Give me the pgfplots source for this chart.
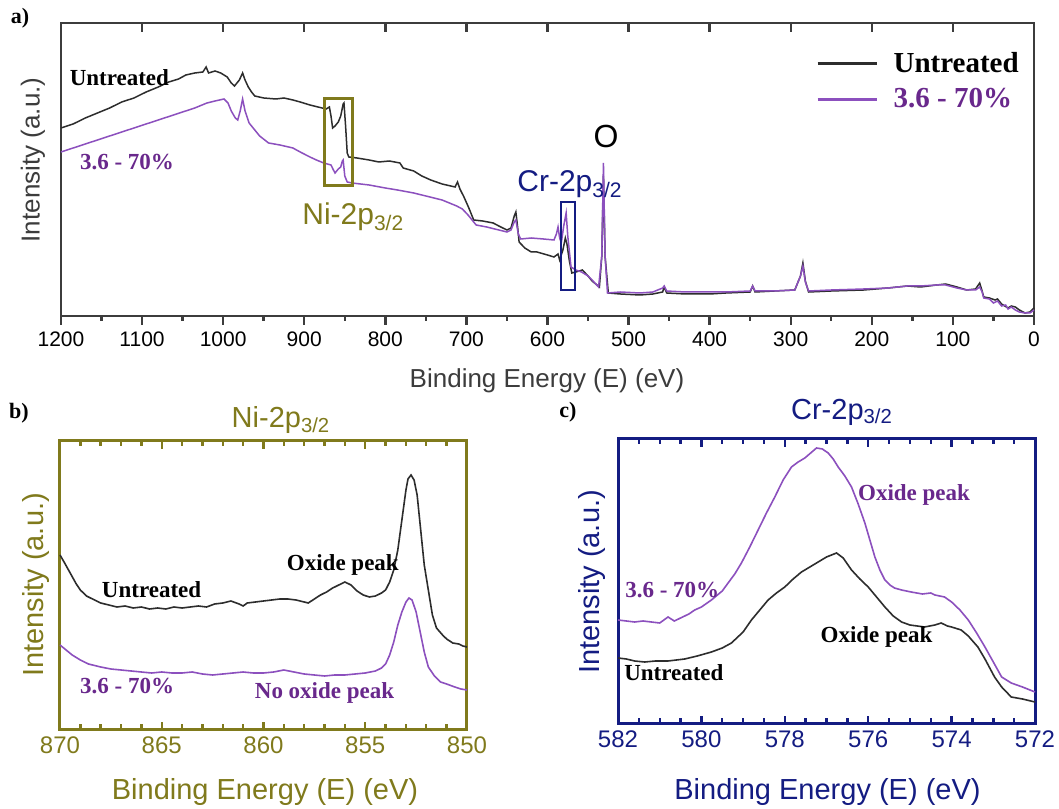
\documentclass[border=0pt]{standalone}
\usepackage{fontspec}
\setmainfont{Liberation Sans}
\newfontfamily\tnr{Liberation Serif}
\usepackage{pgfplots}
\usepackage{pgfplotstable}
\pgfplotsset{compat=1.18}
\definecolor{olivec}{RGB}{128,122,28}
\definecolor{navyc}{RGB}{20,28,130}
\definecolor{purl}{RGB}{140,80,190}
\definecolor{purt}{RGB}{105,40,140}
\definecolor{blk}{RGB}{45,45,45}
\definecolor{frm}{RGB}{60,60,60}

\pgfplotstableread{
E I
1200 188
1185 192
1170 198
1155 203
1140 208
1125 214
1110 218
1095 224
1080 229
1067 234
1055 237
1046 241
1035 243
1025 244
1021 249
1018 243
1010 245
1003 243
995 239
990 233
986 230
980 236
976 243
973 236
969 229
965 224
961 220
950 218
935 217
925 218
914 216
905 214
893 211
883 209
873 207
869 209
867 200
865 188
862 190
858 194
855 200
852 212
851 213
849 190
847 163
845 159
835 158
820 156
808 154
795 155
782 153
778 148
765 145
755 140
744 136
730 132
714 129
711 134
708 127
703 119
697 108
691 96
680 95
667 93
660 90
650 86
645 88
641 100
639 104
637 90
635 74
628 68
620 64
613 64
600 61
592 59
587 62
585 56
581 66
578 78
576 72
573 55
570 43
565 44
557 46
550 40
545 35
536 29
533 60
531 140
529 60
525 23
510 22
486 21
470 22
458 24
456 29
453 23
430 22
400 22
380 23
350 24
347 30
344 24
320 25
295 26
288 40
285 53
282 35
278 24
250 25
210 26
180 28
156 30
140 29
120 31
109 32
95 29
83 26
72 27
67 33
64 25
62 19
55 18
48 16
45 17
40 12
32 8
28 10
23 9
18 6
11 3
5 4
0 8
}\surveyU

\pgfplotstableread{
E I
1200 164
1185 168
1170 172
1155 176
1140 180
1125 184
1110 188
1095 192
1080 196
1065 200
1050 204
1035 208
1020 213
1010 215
999 217
994 213
990 205
985 198
982 196
979 205
976 217
973 205
968 193
961 186
955 180
944 173
930 171
914 168
905 164
893 159
885 156
876 153
867 151
864 146
862 143
858 147
855 149
853 155
852 156
850 140
847 134
841 133
820 131
800 128
785 126
765 123
750 120
730 116
712 110
705 107
698 101
690 93
688 91
675 89
660 86
650 84
645 86
641 94
639 96
636 82
633 77
620 78
605 77
592 76
589 82
587 89
585 78
583 73
580 90
577 103
575 80
571 49
565 46
558 44
550 40
545 36
537 29
533 60
531 153
529 60
526 23
510 24
486 23
470 24
458 28
456 30
453 25
430 24
400 24
380 24
350 25
347 30
344 25
320 25
295 26
288 40
285 50
282 34
278 25
250 26
210 27
180 28
156 30
140 30
120 31
109 31
95 28
83 26
72 26
67 29
64 24
62 18
55 17
50 13
45 15
40 10
35 11
32 7
28 9
23 6
18 4
11 3
5 3
0 6
}\surveyT

\pgfplotstableread{
E I
870 175
869.8 168
869.5 157
869.2 146
869 140
868.7 134
868.4 131
868 127
867.6 125
867.2 123
866.8 124
866.4 122
866 123
865.6 121
865.2 122
864.8 121
864.4 123
864 122
863.6 123
863.2 124
862.8 123
862.4 126
862 127
861.6 129
861.2 126
861 124
860.8 127
860.4 128
860 129
859.6 130
859.2 131
858.8 131
858.4 130
858 128
857.8 127
857.5 131
857.2 135
856.9 138
856.6 142
856.3 145
856 148
855.7 145
855.4 139
855.1 135
854.8 133
854.5 134
854.2 137
854 140
853.8 148
853.6 160
853.4 180
853.2 210
853.0 240
852.9 251
852.75 255
852.6 250
852.45 235
852.3 205
852.1 165
851.9 140
851.7 115
851.5 102
851.2 95
851 91
850.7 87
850.4 86
850.2 84
850 83
}\niU

\pgfplotstableread{
E I
870 85
869.7 80
869.4 75
869 70
868.6 66
868 63
867.5 61
867 60
866.5 59
866 58
865.5 57
865 58
864.5 57
864 57
863.5 58
863 56
862.5 55
862 56
861.5 57
861 58
860.5 57
860 57
859.5 58
859 60
858.5 58
858 56
857.5 55
857 54
856.5 55
856 55
855.5 56
855 57
854.5 59
854.2 62
854 66
853.8 75
853.6 88
853.4 105
853.2 118
853.0 128
852.85 132
852.7 130
852.5 118
852.3 98
852.1 78
851.9 63
851.6 54
851.3 48
851 46
850.6 43
850.3 41
850 40
}\niT

\pgfplotstableread{
E I
582 104
581.8 103
581.6 102
581.4 103
581.2 102
581 101
580.8 107
580.65 103
580.5 106
580.3 110
580.16 114
580 117
579.76 124
579.5 133
579.36 141
579.2 150
579.04 161
578.84 177
578.64 194
578.44 211
578.24 227
578.04 244
577.84 257
577.68 262
577.52 266
577.38 271
577.24 276
577.1 275
576.96 271
576.84 265
576.72 257
576.56 248
576.4 237
576.24 220
576.08 201
575.96 184
575.84 167
575.72 154
575.6 144
575.48 139
575.37 136
575.2 134
574.97 132
574.7 130
574.5 131
574.4 129
574.17 127
574 122
573.8 114
573.6 104
573.4 91
573.2 77
573 62
572.8 47
572.57 41
572.3 37
572 32
}\crT

\pgfplotstableread{
E I
582 66
581.8 65
581.6 63
581.36 62
581.1 63
580.8 63
580.6 64
580.4 65
580.1 68
579.76 72
579.5 76
579.28 81
579.0 92
578.8 104
578.6 114
578.4 124
578.2 131
578 137
577.8 145
577.6 152
577.4 157
577.2 162
577.0 167
576.76 171
576.6 166
576.4 154
576.2 145
576 137
575.8 127
575.6 117
575.4 108
575.2 102
575.0 99
574.65 97
574.4 99
574.25 101
574.1 98
574 97
573.77 94
573.6 88
573.37 77
573.2 65
572.97 47
572.8 37
572.57 27
572.3 25
572 22
}\crU

\pgfplotsset{
  base/.style={scale only axis, anchor=south west, x dir=reverse, clip=false,
    ymajorticks=false, yminorticks=false, /pgf/number format/assume math mode=true,
    /pgf/number format/1000 sep={}},
}
\newcommand{\lab}{\tnr\bfseries\fontsize{11.5}{13}\selectfont}
% tick helpers: filled rectangles, x value in data units, heights in data units
\newcommand{\tk}[4]{\fill[#1] ([xshift=-0.6pt]axis cs:#2,#3) rectangle ([xshift=0.6pt]axis cs:#2,#4);}

\begin{document}
\begin{tikzpicture}
\path[use as bounding box, fill=white] (0,0) rectangle (529.5pt,404pt);

% ---------- panel a ----------
\begin{axis}[base, at={(30.5pt,246pt)}, width=486.5pt, height=146.5pt,
  xmin=0, xmax=1200, ymin=0, ymax=293,
  xtick={0,100,...,1200}, xtick pos=left, tick align=outside,
  major tick length=4.5pt,
  axis line style={draw=frm, line width=0.9pt},
  every tick/.style={draw=frm, line width=1.1pt},
  ticklabel style={font=\fontsize{10.5}{12}\selectfont, text=black},
  legend style={at={(rel axis cs:0.995,0.93)}, anchor=north east, draw=none, fill=none,
    font=\tnr\bfseries\fontsize{14.5}{16}\selectfont, row sep=2.5pt},
  legend cell align=left,
  legend image code/.code={\path[draw=none] (0pt,0pt) -- (36pt,0pt); \draw[#1, line width=1.5pt] (0pt,0pt) -- (29.5pt,0pt);},
]
\addplot[blk, line width=0.75pt] table[x=E, y=I] {\surveyU};
\addlegendentry{\textcolor{black}{Untreated}}
\addplot[purl, line width=0.75pt] table[x=E, y=I] {\surveyT};
\addlegendentry{\textcolor{purt}{3.6 - 70\%}}
\tk{frm}{0}{0}{-9}\tk{frm}{100}{0}{-9}\tk{frm}{200}{0}{-9}\tk{frm}{300}{0}{-9}
\tk{frm}{400}{0}{-9}\tk{frm}{500}{0}{-9}\tk{frm}{600}{0}{-9}\tk{frm}{700}{0}{-9}
\tk{frm}{800}{0}{-9}\tk{frm}{900}{0}{-9}\tk{frm}{1000}{0}{-9}\tk{frm}{1100}{0}{-9}
\tk{frm}{1200}{0}{-9}
\tk{frm}{50}{0}{-5.5}\tk{frm}{150}{0}{-5.5}\tk{frm}{250}{0}{-5.5}\tk{frm}{350}{0}{-5.5}
\tk{frm}{450}{0}{-5.5}\tk{frm}{550}{0}{-5.5}\tk{frm}{650}{0}{-5.5}\tk{frm}{750}{0}{-5.5}
\tk{frm}{850}{0}{-5.5}\tk{frm}{950}{0}{-5.5}\tk{frm}{1050}{0}{-5.5}\tk{frm}{1150}{0}{-5.5}
\tk{frm}{100}{293}{284}\tk{frm}{200}{293}{284}\tk{frm}{300}{293}{284}\tk{frm}{400}{293}{284}
\tk{frm}{500}{293}{284}\tk{frm}{600}{293}{284}\tk{frm}{700}{293}{284}\tk{frm}{800}{293}{284}
\tk{frm}{900}{293}{284}\tk{frm}{1000}{293}{284}\tk{frm}{1100}{293}{284}
\draw[olivec, line width=1.5pt] (axis cs:875.6,130) rectangle (axis cs:840,217);
\draw[navyc, line width=1.3pt] (axis cs:583.3,26) rectangle (axis cs:566,114);
\node[font=\lab, text=black] at (axis cs:1128,238) {Untreated};
\node[font=\lab, text=purt] at (axis cs:1118.6,154) {3.6 - 70\%};
\node[anchor=base west, inner sep=0pt, text=olivec, font=\fontsize{15}{17}\selectfont] at (axis cs:902.8,91) {Ni-2p\textsubscript{3/2}};
\node[anchor=base west, inner sep=0pt, text=navyc, font=\fontsize{15}{17}\selectfont] at (axis cs:637.6,124) {Cr-2p\textsubscript{3/2}};
\node[anchor=base, inner sep=0pt, text=black, font=\fontsize{16}{18}\selectfont] at (axis cs:527.8,168) {O};
\end{axis}

% ---------- panel b ----------
\begin{axis}[base, at={(30pt,39pt)}, width=203.5pt, height=144.5pt,
  xmin=850, xmax=870, ymin=0, ymax=289,
  xtick={850,855,...,870}, xtick pos=both, tick align=inside,
  major tick length=3.8pt,
  axis line style={draw=olivec, line width=1.5pt},
  every tick/.style={draw=olivec, line width=1.2pt},
  ticklabel style={font=\fontsize{12}{14}\selectfont, text=olivec},
]
\addplot[blk, line width=0.8pt] table[x=E, y=I] {\niU};
\addplot[purl, line width=0.8pt] table[x=E, y=I] {\niT};
\tk{olivec}{855}{0}{8}\tk{olivec}{860}{0}{8}\tk{olivec}{865}{0}{8}
\tk{olivec}{855}{289}{281}\tk{olivec}{860}{289}{281}\tk{olivec}{865}{289}{281}
\tk{olivec}{851}{0}{5.5}\tk{olivec}{852}{0}{5.5}\tk{olivec}{853}{0}{5.5}\tk{olivec}{854}{0}{5.5}
\tk{olivec}{856}{0}{5.5}\tk{olivec}{857}{0}{5.5}\tk{olivec}{858}{0}{5.5}\tk{olivec}{859}{0}{5.5}
\tk{olivec}{861}{0}{5.5}\tk{olivec}{862}{0}{5.5}\tk{olivec}{863}{0}{5.5}\tk{olivec}{864}{0}{5.5}
\tk{olivec}{866}{0}{5.5}\tk{olivec}{867}{0}{5.5}\tk{olivec}{868}{0}{5.5}\tk{olivec}{869}{0}{5.5}
\tk{olivec}{851}{289}{283.5}\tk{olivec}{852}{289}{283.5}\tk{olivec}{853}{289}{283.5}\tk{olivec}{854}{289}{283.5}
\tk{olivec}{856}{289}{283.5}\tk{olivec}{857}{289}{283.5}\tk{olivec}{858}{289}{283.5}\tk{olivec}{859}{289}{283.5}
\tk{olivec}{861}{289}{283.5}\tk{olivec}{862}{289}{283.5}\tk{olivec}{863}{289}{283.5}\tk{olivec}{864}{289}{283.5}
\tk{olivec}{866}{289}{283.5}\tk{olivec}{867}{289}{283.5}\tk{olivec}{868}{289}{283.5}\tk{olivec}{869}{289}{283.5}
\node[font=\lab, text=black] at (axis cs:856.1,165) {Oxide peak};
\node[font=\lab, text=black] at (axis cs:865.5,140) {Untreated};
\node[font=\lab, text=purt] at (axis cs:866.7,44) {3.6 - 70\%};
\node[font=\lab, text=purt] at (axis cs:857.0,37) {No oxide peak};
\end{axis}

% ---------- panel c ----------
\begin{axis}[base, at={(309pt,42pt)}, width=208.5pt, height=142.5pt,
  xmin=572, xmax=582, ymin=0, ymax=285,
  xtick={572,574,...,582}, xtick pos=both, tick align=inside,
  major tick length=3.8pt,
  axis line style={draw=navyc, line width=1.5pt},
  every tick/.style={draw=navyc, line width=1.2pt},
  ticklabel style={font=\fontsize{12}{14}\selectfont, text=navyc},
]
\addplot[purl, line width=0.8pt] table[x=E, y=I] {\crT};
\addplot[blk, line width=0.8pt] table[x=E, y=I] {\crU};
\tk{navyc}{574}{0}{8}\tk{navyc}{576}{0}{8}\tk{navyc}{578}{0}{8}\tk{navyc}{580}{0}{8}
\tk{navyc}{574}{285}{277}\tk{navyc}{576}{285}{277}\tk{navyc}{578}{285}{277}\tk{navyc}{580}{285}{277}
\tk{navyc}{572.5}{0}{5.5}\tk{navyc}{573}{0}{5.5}\tk{navyc}{573.5}{0}{5.5}
\tk{navyc}{574.5}{0}{5.5}\tk{navyc}{575}{0}{5.5}\tk{navyc}{575.5}{0}{5.5}
\tk{navyc}{576.5}{0}{5.5}\tk{navyc}{577}{0}{5.5}\tk{navyc}{577.5}{0}{5.5}
\tk{navyc}{578.5}{0}{5.5}\tk{navyc}{579}{0}{5.5}\tk{navyc}{579.5}{0}{5.5}
\tk{navyc}{580.5}{0}{5.5}\tk{navyc}{581}{0}{5.5}\tk{navyc}{581.5}{0}{5.5}
\tk{navyc}{572.5}{285}{279.5}\tk{navyc}{573}{285}{279.5}\tk{navyc}{573.5}{285}{279.5}
\tk{navyc}{574.5}{285}{279.5}\tk{navyc}{575}{285}{279.5}\tk{navyc}{575.5}{285}{279.5}
\tk{navyc}{576.5}{285}{279.5}\tk{navyc}{577}{285}{279.5}\tk{navyc}{577.5}{285}{279.5}
\tk{navyc}{578.5}{285}{279.5}\tk{navyc}{579}{285}{279.5}\tk{navyc}{579.5}{285}{279.5}
\tk{navyc}{580.5}{285}{279.5}\tk{navyc}{581}{285}{279.5}\tk{navyc}{581.5}{285}{279.5}
\node[font=\lab, text=purt] at (axis cs:574.9,229) {Oxide peak};
\node[font=\lab, text=black] at (axis cs:575.8,87) {Oxide peak};
\node[font=\lab, text=purt] at (axis cs:580.7,134) {3.6 - 70\%};
\node[font=\lab, text=black] at (axis cs:580.66,51) {Untreated};
\end{axis}

% ---------- labels ----------
\node[font=\tnr\bfseries\fontsize{11}{13}\selectfont] at (10pt,395pt) {a)};
\node[font=\tnr\bfseries\fontsize{11}{13}\selectfont] at (9.5pt,197.5pt) {b)};
\node[font=\tnr\bfseries\fontsize{11}{13}\selectfont] at (284pt,198pt) {c)};
\node[font=\fontsize{13}{15}\selectfont, text=frm] at (273.5pt,213.5pt) {Binding Energy (E) (eV)};
\node[font=\fontsize{13}{15}\selectfont, text=frm, rotate=90] at (16.5pt,324pt) {Intensity (a.u.)};
\node[font=\fontsize{14.5}{17}\selectfont, text=olivec] at (140.5pt,194pt) {Ni-2p\textsubscript{3/2}};
\node[font=\fontsize{14.5}{17}\selectfont, text=olivec] at (132.5pt,8pt) {Binding Energy (E) (eV)};
\node[font=\fontsize{14.5}{17}\selectfont, text=olivec, rotate=90] at (18pt,111.5pt) {Intensity (a.u.)};
\node[font=\fontsize{14.5}{17}\selectfont, text=navyc] at (421pt,198pt) {Cr-2p\textsubscript{3/2}};
\node[font=\fontsize{14.5}{17}\selectfont, text=navyc] at (413.75pt,8pt) {Binding Energy (E) (eV)};
\node[font=\fontsize{14.5}{17}\selectfont, text=navyc, rotate=90] at (296pt,113pt) {Intensity (a.u.)};
\end{tikzpicture}
\end{document}
